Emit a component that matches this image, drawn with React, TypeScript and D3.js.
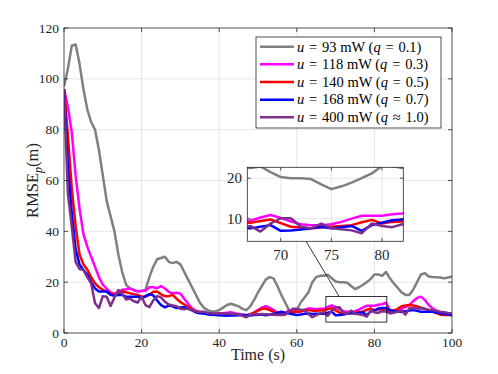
import React, { useEffect, useRef } from 'react';
import * as d3 from 'd3';

// sample times (s), one sample per second
const time = d3.range(0, 101);

// RMSE_p (m) per transmit power
const rmse93 = [
  97, 104, 113, 113.5, 106, 96, 88, 83, 80, 72,
  62, 52, 46, 40, 31, 24, 19, 17.5, 17, 16.5,
  16.5, 17, 22, 26, 29, 29.5, 30, 28, 27.5, 28,
  27, 24, 21, 18, 15, 12, 10, 9, 8.5, 8.5,
  9, 10, 11, 11.5, 11, 10.5, 9.5, 9, 10.5, 13,
  16, 18.5, 21, 22, 21.5, 18.5, 15, 12, 9, 7.7,
  9, 12, 14, 16, 20, 22, 22.5, 22.5, 22.9, 21.5,
  20.3, 20, 20, 19.8, 18.5, 17.3, 18, 18.9, 20, 21.2,
  23, 23, 22.5, 24, 21.5, 19.5, 17.8, 16, 15, 15,
  17, 20, 23, 23.5, 22.2, 22, 21.9, 21.8, 21.5, 21.8,
  22.3,
];
const rmse118 = [
  96, 89, 79, 62, 49, 39, 34, 30, 26, 22,
  19, 17.5, 16, 15.5, 16, 17, 17.2, 17.6, 16.8, 16.3,
  16.5, 16.6, 18, 18, 17.6, 18.5, 17.5, 16.2, 15.6, 15.8,
  15.5, 13.5, 11.5, 9.7, 8.7, 8.2, 8, 7.8, 7.6, 7.5,
  7.8, 7.8, 8, 8.2, 7.8, 7.5, 7.2, 7, 7.4, 8,
  9, 10, 10.6, 10, 9, 8, 7.5, 7.8, 9, 8.6,
  8.4, 8.5, 9.2, 9.7, 9.5, 9.3, 9.5, 9.5, 10.3, 10.9,
  10.2, 9.3, 8.6, 8.4, 8.4, 8.6, 9.2, 10, 10.7, 10.7,
  10.7, 11.1, 11.3, 11.9, 9, 9, 9, 9.5, 10.2, 11,
  12.5, 13.8, 14.3, 13, 11, 9.7, 8.8, 8.2, 7.8, 7.3,
  7.1,
];
const rmse140 = [
  96, 78, 57, 42, 31, 27, 25, 22, 19.5, 18,
  17, 16.3, 15.5, 15, 15.5, 16.3, 16, 15.6, 15.3, 15,
  14.4, 14.3, 15, 16.2, 16.3, 15.2, 14.5, 14.5, 15, 13.5,
  12.2, 11.2, 10.2, 9.2, 8.6, 8.2, 7.8, 7.5, 7.4, 7.5,
  7.5, 7.3, 7.2, 7.5, 7.4, 7.2, 7, 7, 7.3, 8,
  8.8, 9.5, 9.6, 9, 8.3, 7.6, 7.4, 7.8, 8.4, 8.4,
  8.4, 8.5, 8.8, 9, 8.8, 8.7, 8.9, 9, 9.4, 9.8,
  8.9, 8, 7.8, 7.6, 7.8, 8, 8.2, 8.4, 9.1, 9.7,
  8.8, 9.2, 9.3, 9.5, 8.5, 8.8, 9.5, 10.5, 10.8, 11,
  10.8, 10.5, 10, 9.5, 9, 8.4, 7.8, 7.2, 7.1, 7.1,
  7.1,
];
const rmse168 = [
  96, 66, 47, 33, 27, 24.8, 23, 20, 17.5, 16.3,
  16.3, 16.3, 15, 14.6, 15, 15, 14.3, 14.3, 14.3, 14.3,
  13.6, 14.5, 15.3, 14.8, 12.8, 11, 10.1, 10.8, 10.5, 9.8,
  10, 10.1, 9.5, 8.9, 8.1, 7.8, 7.7, 7.4, 7.2, 7.1,
  7, 6.9, 6.8, 7, 6.9, 7, 7.2, 7, 6.9, 7.1,
  7.2, 7.3, 7, 7.2, 7.5, 8, 8.4, 8, 7.7, 7.4,
  7.1, 7.3, 7.6, 7.7, 7.5, 7.6, 7.6, 7.6, 8, 8.4,
  7, 7.1, 7.3, 7.6, 8, 7.6, 7.9, 8.2, 7, 8.4,
  9, 9.6, 9.8, 9.8, 9, 8.7, 8.5, 8.4, 8.6, 8.8,
  9, 8.7, 8.4, 8.4, 8.4, 8.4, 8.1, 7.8, 7.6, 7.3,
  7.1,
];
const rmse400 = [
  96, 55, 42, 28, 25.2, 24.8, 22, 19.5, 11.7, 9.8,
  14.5, 14.3, 10.6, 14, 16.9, 15.5, 13.2, 13.6, 12.5, 12,
  14.3, 11, 10.2, 12.8, 14.5, 14, 12.3, 11.2, 10.8, 10.5,
  9.5, 9.3, 9.7, 9, 8.4, 8.4, 8.4, 8, 7.8, 7.7,
  7.7, 7.7, 7.7, 7.6, 7.5, 7.3, 6.8, 6.2, 7.2, 7.4,
  7.4, 7.5, 7.4, 7.3, 7.2, 7.1, 7.1, 7.2, 8.4, 9.5,
  9.5, 9.2, 9, 7.5, 6.2, 7, 7.7, 8.2, 6.8, 8.8,
  10.1, 10.1, 8, 7.6, 8.8, 7.6, 7.4, 7.1, 6.4, 8.8,
  8.2, 7.9, 8.6, 8.5, 7.7, 8, 8.4, 8.8, 7.2, 9.7,
  9.7, 9.6, 9.7, 9.5, 9.2, 9, 8.7, 8.4, 8.2, 7.9,
  7.7,
];

const powers = ['93', '118', '140', '168', '400'];
const qLabels = ['=', '=', '=', '=', '\u2248'];
const qValues = ['0.1', '0.3', '0.5', '0.7', '1.0'];
const colors = ['#808080', '#ff00ff', '#ff0000', '#0000ff', '#7e2f8e'];
const allSeries = [rmse93, rmse118, rmse140, rmse168, rmse400];

const xTicks = [0, 20, 40, 60, 80, 100];
const yTicks = [0, 20, 40, 60, 80, 100, 120];
const insetXTicks = [70, 75, 80];
const insetYTicks = [10, 20];

// zoomed region marked in the main axes, and the inset's own limits
const zoomBox = [67.5, 83.2, 4.3, 14.4];
const insetDomainX = [66.7, 82.1];
const insetDomainY = [4.4, 22.7];

const FONT = '"Liberation Serif", "Times New Roman", serif';
const AXIS = '#262626';
const GRID = '#e6e6e6';
const SP = '\u2004'; // LaTeX-like thick space around relations

const App = () => {
  const svgRef = useRef(null);

  useEffect(() => {
    const svg = d3.select(svgRef.current);
    svg.selectAll('*').remove();

    const x = d3.scaleLinear().domain([0, 100]).range([64, 452]);
    const y = d3.scaleLinear().domain([0, 120]).range([333, 28]);

    const defs = svg.append('defs');
    defs.append('clipPath').attr('id', 'main-clip')
      .append('rect').attr('x', 64).attr('y', 28).attr('width', 388).attr('height', 305);

    // grid
    svg.append('g').selectAll('line').data(xTicks.slice(1, -1)).join('line')
      .attr('x1', d => x(d)).attr('x2', d => x(d)).attr('y1', 28).attr('y2', 333)
      .attr('stroke', GRID).attr('stroke-width', 1);
    svg.append('g').selectAll('line').data(yTicks.slice(1, -1)).join('line')
      .attr('x1', 64).attr('x2', 452).attr('y1', d => y(d)).attr('y2', d => y(d))
      .attr('stroke', GRID).attr('stroke-width', 1);

    const line = (xs, ys) => d3.line<number>()
      .x((d, i) => xs(time[i]))
      .y(d => ys(d));

    // main lines
    const lines = svg.append('g').attr('clip-path', 'url(#main-clip)');
    allSeries.forEach((vals, k) => {
      lines.append('path')
        .attr('d', line(x, y)(vals))
        .attr('fill', 'none')
        .attr('stroke', colors[k])
        .attr('stroke-width', 2.5)
        .attr('stroke-linejoin', 'round');
    });

    // axes box + ticks
    svg.append('rect').attr('x', 64).attr('y', 28).attr('width', 388).attr('height', 305)
      .attr('fill', 'none').attr('stroke', AXIS).attr('stroke-width', 0.8);
    const ticks = svg.append('g').attr('stroke', AXIS).attr('stroke-width', 0.8);
    xTicks.forEach(t => {
      ticks.append('line').attr('x1', x(t)).attr('x2', x(t)).attr('y1', 333).attr('y2', 329);
      ticks.append('line').attr('x1', x(t)).attr('x2', x(t)).attr('y1', 28).attr('y2', 32);
    });
    yTicks.forEach(t => {
      ticks.append('line').attr('x1', 64).attr('x2', 68).attr('y1', y(t)).attr('y2', y(t));
      ticks.append('line').attr('x1', 452).attr('x2', 448).attr('y1', y(t)).attr('y2', y(t));
    });

    svg.append('g').selectAll('text').data(xTicks).join('text')
      .attr('x', d => x(d)).attr('y', 347)
      .attr('text-anchor', 'middle')
      .style('font-family', FONT).style('font-size', '13.5px').style('fill', AXIS)
      .text(d => d);
    svg.append('g').selectAll('text').data(yTicks).join('text')
      .attr('x', 59).attr('y', d => y(d) + 4.5)
      .attr('text-anchor', 'end')
      .style('font-family', FONT).style('font-size', '13.5px').style('fill', AXIS)
      .text(d => d);

    svg.append('text')
      .attr('x', x(50)).attr('y', 360)
      .attr('text-anchor', 'middle')
      .style('font-family', FONT).style('font-size', '16px').style('fill', AXIS)
      .text('Time (s)');

    const yl = svg.append('text')
      .attr('transform', `translate(38, ${y(60)}) rotate(-90)`)
      .attr('text-anchor', 'middle')
      .style('font-family', FONT).style('font-size', '16.5px').style('fill', AXIS);
    yl.append('tspan').text('RMSE');
    yl.append('tspan').attr('font-style', 'italic').attr('font-size', '12px').attr('dy', 4).text('p');
    yl.append('tspan').attr('dy', -4).text('(m)');

    // zoom marker + connector
    svg.append('rect')
      .attr('x', x(zoomBox[0])).attr('y', y(zoomBox[3]))
      .attr('width', x(zoomBox[1]) - x(zoomBox[0]))
      .attr('height', y(zoomBox[2]) - y(zoomBox[3]))
      .attr('fill', 'none').attr('stroke', '#000').attr('stroke-width', 0.8);

    // inset
    const ix = d3.scaleLinear().domain(insetDomainX).range([247.3, 403.3]);
    const iy = d3.scaleLinear().domain(insetDomainY).range([241.3, 167.3]);

    svg.append('line')
      .attr('x1', x(70.9)).attr('y1', y(zoomBox[3]))
      .attr('x2', ix(72.5)).attr('y2', 241.3)
      .attr('stroke', '#000').attr('stroke-width', 0.8);

    defs.append('clipPath').attr('id', 'inset-clip')
      .append('rect').attr('x', 247.3).attr('y', 167.3).attr('width', 156).attr('height', 74);

    const inset = svg.append('g');
    inset.append('rect').attr('x', 247.3).attr('y', 167.3).attr('width', 156).attr('height', 74)
      .attr('fill', '#fff');
    inset.append('g').selectAll('line').data(insetXTicks).join('line')
      .attr('x1', d => ix(d)).attr('x2', d => ix(d)).attr('y1', 167.3).attr('y2', 241.3)
      .attr('stroke', GRID);
    inset.append('g').selectAll('line').data(insetYTicks).join('line')
      .attr('x1', 247.3).attr('x2', 403.3).attr('y1', d => iy(d)).attr('y2', d => iy(d))
      .attr('stroke', GRID);
    const ilines = inset.append('g').attr('clip-path', 'url(#inset-clip)');
    allSeries.forEach((vals, k) => {
      ilines.append('path')
        .attr('d', line(ix, iy)(vals))
        .attr('fill', 'none')
        .attr('stroke', colors[k])
        .attr('stroke-width', 2.5)
        .attr('stroke-linejoin', 'round');
    });
    inset.append('rect').attr('x', 247.3).attr('y', 167.3).attr('width', 156).attr('height', 74)
      .attr('fill', 'none').attr('stroke', AXIS).attr('stroke-width', 0.8);
    const iticks = inset.append('g').attr('stroke', AXIS).attr('stroke-width', 0.8);
    insetXTicks.forEach(t => {
      iticks.append('line').attr('x1', ix(t)).attr('x2', ix(t)).attr('y1', 241.3).attr('y2', 238);
      iticks.append('line').attr('x1', ix(t)).attr('x2', ix(t)).attr('y1', 167.3).attr('y2', 170.6);
    });
    insetYTicks.forEach(t => {
      iticks.append('line').attr('x1', 247.3).attr('x2', 250.6).attr('y1', iy(t)).attr('y2', iy(t));
      iticks.append('line').attr('x1', 403.3).attr('x2', 400).attr('y1', iy(t)).attr('y2', iy(t));
    });
    inset.append('g').selectAll('text').data(insetXTicks).join('text')
      .attr('x', d => ix(d)).attr('y', 260)
      .attr('text-anchor', 'middle')
      .style('font-family', FONT).style('font-size', '15px').style('fill', AXIS)
      .text(d => d);
    inset.append('g').selectAll('text').data(insetYTicks).join('text')
      .attr('x', 242).attr('y', d => iy(d) + 5)
      .attr('text-anchor', 'end')
      .style('font-family', FONT).style('font-size', '15px').style('fill', AXIS)
      .text(d => d);

    // legend
    const legend = svg.append('g');
    legend.append('rect').attr('x', 256).attr('y', 37).attr('width', 185).attr('height', 91)
      .attr('fill', '#fff').attr('stroke', AXIS).attr('stroke-width', 0.8);
    powers.forEach((p, k) => {
      const ry = 46.7 + k * 17.65;
      legend.append('line').attr('x1', 260).attr('x2', 294).attr('y1', ry).attr('y2', ry)
        .attr('stroke', colors[k]).attr('stroke-width', 2.5);
      const t = legend.append('text')
        .attr('x', 297).attr('y', ry + 4.8)
        .style('font-family', FONT).style('font-size', '14.5px').style('fill', '#000')
        .style('white-space', 'pre');
      t.append('tspan').attr('font-style', 'italic').text('u');
      t.append('tspan').text(`${SP}=${SP}${p} mW (`);
      t.append('tspan').attr('font-style', 'italic').text('q');
      t.append('tspan').text(`${SP}${qLabels[k]}${SP}${qValues[k]})`);
    });
  }, []);

  return (
    <svg
      ref={svgRef}
      width={498}
      height={374}
      style={{ position: 'absolute', left: 0, top: 0, background: '#fff' }}
    />
  );
};

export default App;
